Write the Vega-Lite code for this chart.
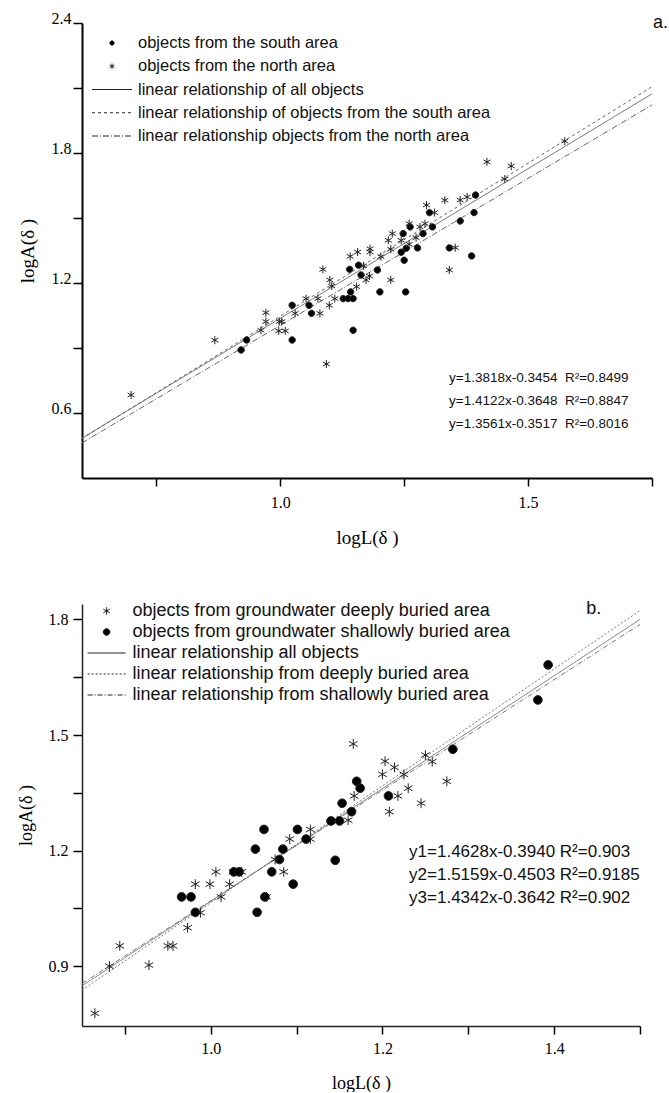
{
  "$schema": "https://vega.github.io/schema/vega-lite/v6.json",
  "background": "white",
  "padding": {"left": 17, "top": 10, "right": 0, "bottom": 0},
  "spacing": 52,
  "datasets": {
    "ptsA": [
      {"x":0.921,"y":0.891,"g":"S"},{"x":0.932,"y":0.937,"g":"S"},{"x":1.024,"y":0.937,"g":"S"},{"x":1.024,"y":1.097,"g":"S"},
      {"x":1.058,"y":1.097,"g":"S"},{"x":1.063,"y":1.060,"g":"S"},{"x":1.127,"y":1.128,"g":"S"},{"x":1.137,"y":1.128,"g":"S"},
      {"x":1.147,"y":1.128,"g":"S"},{"x":1.142,"y":1.159,"g":"S"},{"x":1.147,"y":0.982,"g":"S"},{"x":1.140,"y":1.263,"g":"S"},
      {"x":1.158,"y":1.282,"g":"S"},{"x":1.163,"y":1.237,"g":"S"},{"x":1.196,"y":1.260,"g":"S"},{"x":1.201,"y":1.159,"g":"S"},
      {"x":1.253,"y":1.159,"g":"S"},{"x":1.244,"y":1.342,"g":"S"},{"x":1.250,"y":1.305,"g":"S"},{"x":1.248,"y":1.428,"g":"S"},
      {"x":1.254,"y":1.360,"g":"S"},{"x":1.262,"y":1.459,"g":"S"},{"x":1.277,"y":1.362,"g":"S"},{"x":1.288,"y":1.428,"g":"S"},
      {"x":1.307,"y":1.459,"g":"S"},{"x":1.301,"y":1.525,"g":"S"},{"x":1.341,"y":1.362,"g":"S"},{"x":1.386,"y":1.325,"g":"S"},
      {"x":1.391,"y":1.525,"g":"S"},{"x":1.394,"y":1.606,"g":"S"},{"x":1.363,"y":1.486,"g":"S"},
      {"x":0.699,"y":0.683,"g":"N"},{"x":0.868,"y":0.936,"g":"N"},{"x":0.971,"y":1.063,"g":"N"},{"x":0.971,"y":1.022,"g":"N"},
      {"x":0.961,"y":0.982,"g":"N"},{"x":0.998,"y":1.022,"g":"N"},{"x":1.003,"y":1.022,"g":"N"},{"x":0.997,"y":0.979,"g":"N"},
      {"x":1.010,"y":0.979,"g":"N"},{"x":1.030,"y":1.060,"g":"N"},{"x":1.052,"y":1.128,"g":"N"},{"x":1.076,"y":1.128,"g":"N"},
      {"x":1.080,"y":1.060,"g":"N"},{"x":1.086,"y":1.263,"g":"N"},{"x":1.093,"y":0.826,"g":"N"},{"x":1.099,"y":1.097,"g":"N"},
      {"x":1.110,"y":1.128,"g":"N"},{"x":1.100,"y":1.214,"g":"N"},{"x":1.104,"y":1.186,"g":"N"},{"x":1.141,"y":1.323,"g":"N"},
      {"x":1.156,"y":1.343,"g":"N"},{"x":1.181,"y":1.358,"g":"N"},{"x":1.181,"y":1.343,"g":"N"},{"x":1.168,"y":1.279,"g":"N"},
      {"x":1.154,"y":1.183,"g":"N"},{"x":1.173,"y":1.214,"g":"N"},{"x":1.180,"y":1.232,"g":"N"},{"x":1.203,"y":1.322,"g":"N"},
      {"x":1.223,"y":1.214,"g":"N"},{"x":1.218,"y":1.397,"g":"N"},{"x":1.226,"y":1.428,"g":"N"},{"x":1.223,"y":1.356,"g":"N"},
      {"x":1.244,"y":1.397,"g":"N"},{"x":1.260,"y":1.474,"g":"N"},{"x":1.260,"y":1.379,"g":"N"},{"x":1.282,"y":1.459,"g":"N"},
      {"x":1.292,"y":1.474,"g":"N"},{"x":1.274,"y":1.409,"g":"N"},{"x":1.295,"y":1.560,"g":"N"},{"x":1.311,"y":1.525,"g":"N"},
      {"x":1.332,"y":1.582,"g":"N"},{"x":1.341,"y":1.260,"g":"N"},{"x":1.353,"y":1.363,"g":"N"},{"x":1.363,"y":1.583,"g":"N"},
      {"x":1.377,"y":1.597,"g":"N"},{"x":1.417,"y":1.759,"g":"N"},{"x":1.466,"y":1.740,"g":"N"},{"x":1.453,"y":1.680,"g":"N"},
      {"x":1.574,"y":1.855,"g":"N"}
    ],
    "linesA": [
      {"g":"all","x":0.6,"y":0.484},{"g":"all","x":1.75,"y":2.073},
      {"g":"south","x":0.6,"y":0.482},{"g":"south","x":1.75,"y":2.106},
      {"g":"north","x":0.6,"y":0.462},{"g":"north","x":1.75,"y":2.022}
    ],
    "ptsB": [
      {"x":0.865,"y":0.778,"g":"D"},{"x":0.882,"y":0.900,"g":"D"},{"x":0.894,"y":0.953,"g":"D"},{"x":0.928,"y":0.903,"g":"D"},
      {"x":0.950,"y":0.953,"g":"D"},{"x":0.956,"y":0.953,"g":"D"},{"x":0.973,"y":1.000,"g":"D"},{"x":0.982,"y":1.113,"g":"D"},
      {"x":0.988,"y":1.039,"g":"D"},{"x":0.999,"y":1.113,"g":"D"},{"x":1.006,"y":1.145,"g":"D"},{"x":1.012,"y":1.080,"g":"D"},
      {"x":1.022,"y":1.113,"g":"D"},{"x":1.026,"y":1.145,"g":"D"},{"x":1.036,"y":1.145,"g":"D"},{"x":1.065,"y":1.080,"g":"D"},
      {"x":1.085,"y":1.145,"g":"D"},{"x":1.075,"y":1.177,"g":"D"},{"x":1.092,"y":1.230,"g":"D"},{"x":1.116,"y":1.255,"g":"D"},
      {"x":1.116,"y":1.230,"g":"D"},{"x":1.160,"y":1.279,"g":"D"},{"x":1.166,"y":1.477,"g":"D"},{"x":1.167,"y":1.342,"g":"D"},
      {"x":1.200,"y":1.398,"g":"D"},{"x":1.203,"y":1.432,"g":"D"},{"x":1.214,"y":1.416,"g":"D"},{"x":1.208,"y":1.301,"g":"D"},
      {"x":1.218,"y":1.342,"g":"D"},{"x":1.225,"y":1.398,"g":"D"},{"x":1.230,"y":1.362,"g":"D"},{"x":1.245,"y":1.323,"g":"D"},
      {"x":1.250,"y":1.448,"g":"D"},{"x":1.258,"y":1.431,"g":"D"},{"x":1.275,"y":1.380,"g":"D"},
      {"x":0.966,"y":1.080,"g":"W"},{"x":0.977,"y":1.080,"g":"W"},{"x":0.982,"y":1.040,"g":"W"},{"x":1.027,"y":1.145,"g":"W"},
      {"x":1.033,"y":1.145,"g":"W"},{"x":1.052,"y":1.204,"g":"W"},{"x":1.062,"y":1.255,"g":"W"},{"x":1.054,"y":1.040,"g":"W"},
      {"x":1.063,"y":1.080,"g":"W"},{"x":1.071,"y":1.145,"g":"W"},{"x":1.080,"y":1.177,"g":"W"},{"x":1.084,"y":1.204,"g":"W"},
      {"x":1.096,"y":1.113,"g":"W"},{"x":1.101,"y":1.255,"g":"W"},{"x":1.111,"y":1.230,"g":"W"},{"x":1.140,"y":1.277,"g":"W"},
      {"x":1.150,"y":1.277,"g":"W"},{"x":1.145,"y":1.175,"g":"W"},{"x":1.153,"y":1.323,"g":"W"},{"x":1.164,"y":1.301,"g":"W"},
      {"x":1.170,"y":1.380,"g":"W"},{"x":1.174,"y":1.362,"g":"W"},{"x":1.207,"y":1.342,"g":"W"},{"x":1.282,"y":1.463,"g":"W"},
      {"x":1.381,"y":1.591,"g":"W"},{"x":1.393,"y":1.682,"g":"W"}
    ],
    "linesB": [
      {"g":"all","x":0.85,"y":0.849},{"g":"all","x":1.5,"y":1.800},
      {"g":"deep","x":0.85,"y":0.838},{"g":"deep","x":1.5,"y":1.823},
      {"g":"shallow","x":0.85,"y":0.855},{"g":"shallow","x":1.5,"y":1.787}
    ]
  },
  "vconcat": [
    {
      "width": 570,
      "height": 455,
      "layer": [
        {
          "data": {"name": "linesA"},
          "mark": {"type": "line", "strokeWidth": 1, "color": "#666"},
          "encoding": {
            "x": {"field": "x", "type": "quantitative",
              "scale": {"domain": [0.6, 1.75], "nice": false, "zero": false},
              "axis": {"title": "logL(δ )", "values": [0.75, 1, 1.25, 1.5, 1.75],
                "labelExpr": "datum.value==1||datum.value==1.5 ? format(datum.value,'.1f') : ''",
                "tickSize": 8, "tickWidth": 1.5, "domainWidth": 2, "labelFontSize": 16, "labelPadding": 8,
                "titleFontSize": 19, "titlePadding": 18, "labelFlush": false}},
            "y": {"field": "y", "type": "quantitative",
              "scale": {"domain": [0.3, 2.4], "nice": false, "zero": false},
              "axis": {"title": "logA(δ )", "values": [0.6, 0.9, 1.2, 1.5, 1.8, 2.1, 2.4],
                "labelExpr": "(datum.value==0.6||datum.value==1.2||datum.value==1.8||datum.value==2.4) ? format(datum.value,'.1f') : ''",
                "tickSize": 9, "tickWidth": 1.5, "domainWidth": 2, "labelFontSize": 16, "labelPadding": 2,
                "labelBaseline": "alphabetic", "titleFontSize": 19, "titlePadding": 14, "labelFlush": false}},
            "strokeDash": {"field": "g", "type": "nominal",
              "scale": {"domain": ["all", "south", "north"], "range": [[1, 0], [3, 3], [6, 2, 1, 2]]},
              "legend": null}
          }
        },
        {
          "data": {"name": "ptsA"},
          "mark": {"type": "point", "filled": true, "fill": "#000", "stroke": "#222", "strokeWidth": 1, "size": 1600, "opacity": 1},
          "encoding": {
            "x": {"field": "x", "type": "quantitative"},
            "y": {"field": "y", "type": "quantitative"},
            "shape": {"field": "g", "type": "nominal",
              "scale": {"domain": ["S", "N", "L1", "L2", "L3"],
                "range": [
                  "M-1.481,0M1.481,0M-0.16,0A0.16,0.16,0,1,1,0.16,0A0.16,0.16,0,1,1,-0.16,0Z",
                  "M-1.481,0M1.481,0M0,-0.2L0,0.2M-0.173,-0.1L0.173,0.1M-0.173,0.1L0.173,-0.1",
                  "M-1.481,0L1.481,0",
                  "M-1.481,0H-1.259M-1.037,0H-0.815M-0.593,0H-0.371M-0.148,0H0.074M0.296,0H0.519M0.741,0H0.963M1.185,0H1.407M1.481,0",
                  "M-1.481,0H-1.037M-0.889,0H-0.815M-0.667,0H-0.222M-0.074,0H0M0.148,0H0.593M0.741,0H0.815M0.963,0H1.407M1.481,0"
                ]},
              "legend": {"orient": "none", "legendX": 16, "legendY": 6, "title": null, "padding": 0, "offset": 0,
                "labelFont": "Liberation Sans", "labelFontSize": 16.5, "labelColor": "#111", "labelOffset": 12, "labelLimit": 600,
                "symbolSize": 729, "symbolFillColor": "#000", "symbolStrokeWidth": 1,
                "rowPadding": 0.25,
                "encode": {"symbols": {"stroke": {"value": "#777"}, "strokeWidth": {"value": 1}}},
                "labelExpr": "datum.label=='S' ? 'objects from the south area' : datum.label=='N' ? 'objects from the north area' : datum.label=='L1' ? 'linear relationship of all objects' : datum.label=='L2' ? 'linear relationship of objects from the south area' : 'linear relationship objects from the north area'"}
            }
          }
        },
        {
          "data": {"values": [{"t": ["y=1.3818x-0.3454\u00a0 R²=0.8499", "y=1.4122x-0.3648\u00a0 R²=0.8847", "y=1.3561x-0.3517\u00a0 R²=0.8016"]}]},
          "mark": {"type": "text", "align": "left", "baseline": "top", "font": "Liberation Sans", "fontSize": 13.5, "lineHeight": 23, "color": "#111"},
          "encoding": {"x": {"datum": 1.3405}, "y": {"datum": 0.796}, "text": {"field": "t", "type": "nominal"}}
        },
        {
          "data": {"values": [{"t": "a."}]},
          "mark": {"type": "text", "align": "left", "baseline": "middle", "font": "Liberation Sans", "fontSize": 18, "color": "#111"},
          "encoding": {"x": {"datum": 1.752}, "y": {"datum": 2.4}, "text": {"field": "t", "type": "nominal"}}
        }
      ]
    },
    {
      "width": 558,
      "height": 422,
      "layer": [
        {
          "data": {"name": "linesB"},
          "mark": {"type": "line", "strokeWidth": 1, "color": "#777"},
          "encoding": {
            "x": {"field": "x", "type": "quantitative",
              "scale": {"domain": [0.85, 1.5], "nice": false, "zero": false},
              "axis": {"title": "logL(δ )", "values": [0.9, 1, 1.1, 1.2, 1.3, 1.4, 1.5],
                "labelExpr": "datum.value==1||datum.value==1.2||datum.value==1.4 ? format(datum.value,'.1f') : ''",
                "tickSize": 8, "tickWidth": 1.5, "domainWidth": 1.5, "domainColor": "#222", "labelFontSize": 16, "labelPadding": 6,
                "titleFontSize": 18, "titlePadding": 18, "labelFlush": false}},
            "y": {"field": "y", "type": "quantitative",
              "scale": {"domain": [0.745, 1.84], "nice": false, "zero": false},
              "axis": {"title": "logA(δ )", "values": [0.9, 1.05, 1.2, 1.35, 1.5, 1.65, 1.8],
                "labelExpr": "(datum.value==0.9||datum.value==1.2||datum.value==1.5||datum.value==1.8) ? format(datum.value,'.1f') : ''",
                "tickSize": 9, "tickWidth": 1.5, "domainWidth": 1.5, "domainColor": "#222", "labelFontSize": 16, "labelPadding": 5,
                "titleFontSize": 18, "titlePadding": 13, "labelFlush": false}},
            "strokeDash": {"field": "g", "type": "nominal",
              "scale": {"domain": ["all", "deep", "shallow"], "range": [[1, 0], [2, 2], [5, 2, 1, 2]]},
              "legend": null}
          }
        },
        {
          "data": {"name": "ptsB"},
          "mark": {"type": "point", "filled": true, "fill": "#000", "stroke": "#222", "strokeWidth": 1, "size": 900, "opacity": 1},
          "encoding": {
            "x": {"field": "x", "type": "quantitative"},
            "y": {"field": "y", "type": "quantitative"},
            "shape": {"field": "g", "type": "nominal",
              "scale": {"domain": ["D", "W", "L1", "L2", "L3"],
                "range": [
                  "M-1.652,0M1.652,0M0,-0.33L0,0.33M-0.286,-0.165L0.286,0.165M-0.286,0.165L0.286,-0.165",
                  "M-1.652,0M1.652,0M-0.29,0A0.29,0.29,0,1,1,0.29,0A0.29,0.29,0,1,1,-0.29,0Z",
                  "M-1.652,0L1.652,0",
                  "M-1.652,0H-1.478M-1.304,0H-1.13M-0.957,0H-0.783M-0.609,0H-0.435M-0.261,0H-0.087M0.087,0H0.261M0.435,0H0.609M0.783,0H0.957M1.13,0H1.304M1.478,0H1.652",
                  "M-1.652,0H-1.217M-1.043,0H-0.957M-0.783,0H-0.348M-0.174,0H-0.087M0.087,0H0.522M0.696,0H0.783M0.957,0H1.391M1.565,0H1.652"
                ]},
              "legend": {"orient": "none", "legendX": 12.6, "legendY": -5, "title": null, "padding": 0, "offset": 0,
                "labelFont": "Liberation Sans", "labelFontSize": 18, "labelColor": "#111", "labelOffset": 13.9, "labelLimit": 600,
                "symbolSize": 529, "symbolFillColor": "#000", "symbolStrokeWidth": 1,
                "rowPadding": 0,
                "encode": {"symbols": {"stroke": {"value": "#777"}, "strokeWidth": {"value": 1}}},
                "labelExpr": "datum.label=='D' ? 'objects from groundwater deeply buried area' : datum.label=='W' ? 'objects from groundwater shallowly buried area' : datum.label=='L1' ? 'linear relationship all objects' : datum.label=='L2' ? 'linear relationship from deeply buried area' : 'linear relationship from shallowly buried area'"}
            }
          }
        },
        {
          "data": {"values": [{"t": ["y1=1.4628x-0.3940 R²=0.903", "y2=1.5159x-0.4503 R²=0.9185", "y3=1.4342x-0.3642 R²=0.902"]}]},
          "mark": {"type": "text", "align": "left", "baseline": "top", "font": "Liberation Sans", "fontSize": 17, "lineHeight": 23, "color": "#111"},
          "encoding": {"x": {"datum": 1.231}, "y": {"datum": 1.216}, "text": {"field": "t", "type": "nominal"}}
        },
        {
          "data": {"values": [{"t": "b."}]},
          "mark": {"type": "text", "align": "center", "baseline": "middle", "font": "Liberation Sans", "fontSize": 18, "color": "#111"},
          "encoding": {"x": {"datum": 1.446}, "y": {"datum": 1.827}, "text": {"field": "t", "type": "nominal"}}
        }
      ]
    }
  ],
  "resolve": {
    "scale": {"shape": "independent", "strokeDash": "independent"},
    "legend": {"shape": "independent", "strokeDash": "independent"}
  },
  "config": {
    "view": {"stroke": null},
    "font": "Liberation Sans",
    "axis": {"grid": false, "domainColor": "#000", "tickColor": "#000", "labelColor": "#000", "titleColor": "#000",
      "labelFont": "Liberation Serif", "titleFont": "Liberation Serif", "titleFontWeight": "normal"}
  }
}
